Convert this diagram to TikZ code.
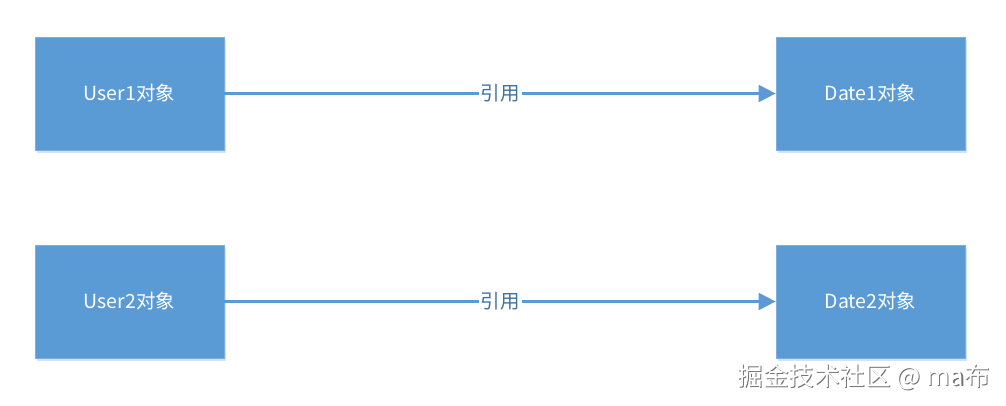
\documentclass[tikz,border=0pt]{standalone}
\usepackage{fontspec}
\setmainfont{Noto Sans CJK SC}
\usetikzlibrary{arrows.meta}
\definecolor{boxblue}{HTML}{5B9BD5}
\definecolor{boxedge}{HTML}{7FAEDC}
\definecolor{linkblue}{HTML}{5B9BD5}
\definecolor{labelblue}{HTML}{41719C}
\definecolor{shadowc}{HTML}{D6E2EF}
\begin{document}
\begin{tikzpicture}[x=1pt,y=-1pt,
  objbox/.style={draw=boxedge,line width=0.8pt,fill=boxblue,text=white,minimum width=189pt,minimum height=113pt,inner sep=0pt,font=\fontsize{19.5}{22}\selectfont,
    preaction={fill=shadowc,transform canvas={xshift=2pt,yshift=-3pt}}},
  reflink/.style={draw=linkblue,line width=2.2pt,-{Triangle[length=17pt,width=17pt]}},
  reflabel/.style={fill=white,text=labelblue,inner sep=2pt,font=\fontsize{19.5}{22}\selectfont}]
\useasboundingbox (0,0) rectangle (1006,406);
\fill[white] (0,0) rectangle (1006,406);
\node[objbox] (u1) at (129.5,93.5) {User1对象};
\node[objbox] (d1) at (870.5,93.5) {Date1对象};
\node[objbox] (u2) at (129.5,301.5) {User2对象};
\node[objbox] (d2) at (870.5,301.5) {Date2对象};
\draw[reflink] (u1) -- node[reflabel] {引用} (d1);
\draw[reflink] (u2) -- node[reflabel] {引用} (d2);
\node[text=black!55,font=\fontsize{25.5}{28}\selectfont,anchor=east,inner sep=0pt] (wms) at (991.2,378.2) {掘金技术社区 @ ma布};
\node[text=white,font=\fontsize{25.5}{28}\selectfont,anchor=east,inner sep=0pt] (wm) at (990,377) {掘金技术社区 @ ma布};
\end{tikzpicture}
\end{document}
